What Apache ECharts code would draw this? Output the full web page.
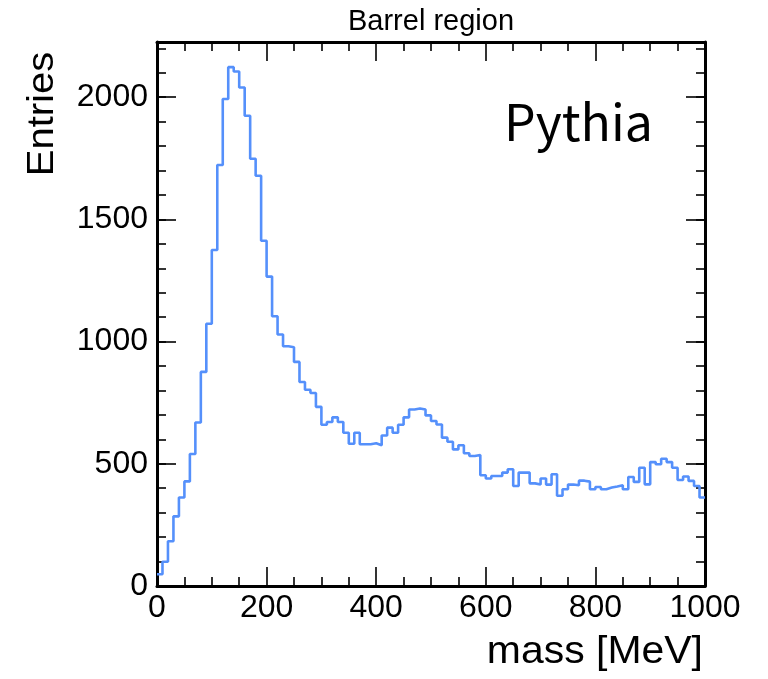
<!DOCTYPE html>
<html>
<head>
<meta charset="utf-8">
<script src="https://cdn.jsdelivr.net/npm/echarts@6/dist/echarts.min.js"></script>
<style>
html,body{margin:0;padding:0;background:#fff;}
#chart{width:768px;height:679px;}
</style>
</head>
<body>
<div id="chart"></div>
<script>
// Histogram: 100 bins of 10 MeV from 0 to 1000 MeV
const binStart = 0;
const binWidth = 10;
const entries = [
  48, 99, 183, 285, 362, 428, 540, 669, 876, 1073,
  1375, 1723, 1993, 2123, 2105, 2040, 1924, 1748, 1679, 1413,
  1266, 1104, 1029, 981, 977, 917, 835, 803, 790, 733,
  660, 671, 690, 671, 627, 582, 627, 580, 580, 584,
  576, 616, 648, 627, 660, 690, 722, 726, 722, 698,
  675, 661, 607, 590, 559, 576, 543, 532, 536, 453,
  440, 450, 450, 464, 478, 409, 464, 464, 420, 415,
  440, 415, 457, 369, 396, 415, 412, 431, 427, 396,
  405, 396, 403, 407, 412, 396, 446, 426, 484, 416,
  507, 498, 521, 507, 484, 434, 448, 430, 409, 362
];
const xTicks = [0, 200, 400, 600, 800, 1000];
const yTicks = [0, 500, 1000, 1500, 2000];
const titleText = 'Barrel region';
const xTitle = 'mass [MeV]';
const yTitle = 'Entries';
const labelText = 'Pythia';

// Build step points from bin edges
const stepData = entries.map((v, i) => [binStart + i * binWidth, v]);
stepData.push([binStart + entries.length * binWidth, entries[entries.length - 1]]);

const xMin = xTicks[0], xMax = xTicks[xTicks.length - 1];
const xInt = xTicks[1] - xTicks[0];
const yInt = yTicks[1] - yTicks[0];
const yMax = 2226;

const font = '"Liberation Sans", Arial, Helvetica, sans-serif';
const lineCol = '#000';

function xAx(pos, showLabel) {
  return {
    type: 'value', position: pos, min: xMin, max: xMax, interval: xInt,
    axisLine: {show: true, onZero: false, lineStyle: {color: lineCol, width: 3}},
    axisTick: {show: true, inside: true, length: 19, lineStyle: {color: lineCol, width: 1.6}},
    minorTick: {show: true, splitNumber: 4, length: 9, lineStyle: {color: lineCol, width: 1.6}},
    axisLabel: {show: showLabel, fontSize: 32, fontFamily: font, color: '#000', margin: 6,
      formatter: v => (xTicks.indexOf(v) >= 0 ? String(v) : '')},
    splitLine: {show: false}, minorSplitLine: {show: false}
  };
}
function yAx(pos, interval, len, showLabel, showLine) {
  return {
    type: 'value', position: pos, min: 0, max: yMax, interval: interval,
    axisLine: {show: showLine, onZero: false, lineStyle: {color: lineCol, width: 3}},
    axisTick: {show: true, inside: true, length: len, lineStyle: {color: lineCol, width: 1.6}},
    axisLabel: {show: showLabel, fontSize: 32, fontFamily: font, color: '#000', margin: 9,
      formatter: v => (yTicks.indexOf(v) >= 0 ? String(v) : '')},
    splitLine: {show: false}
  };
}

const chart = echarts.init(document.getElementById('chart'), null, {renderer: 'canvas'});
chart.setOption({
  animation: false,
  backgroundColor: '#fff',
  grid: {left: 157, right: 63, top: 42, bottom: 93, containLabel: false},
  xAxis: [xAx('bottom', true), xAx('top', false)],
  yAxis: [
    yAx('left', yInt, 19, true, true),
    yAx('left', 100, 9, false, false),
    yAx('right', yInt, 19, false, true),
    yAx('right', 100, 9, false, false)
  ],
  series: [{
    type: 'line', xAxisIndex: 0, yAxisIndex: 0,
    step: 'end', symbol: 'none', data: stepData,
    lineStyle: {color: '#5590fb', width: 2.6},
    clip: true
  }],
  graphic: [
    {type: 'text', x: 431, y: 22, scaleX: 1.0,
      style: {text: titleText, font: '29px ' + font, fill: '#000', align: 'center', verticalAlign: 'middle'}},
    {type: 'text', x: 703, y: 652, scaleX: 1.05,
      style: {text: xTitle, font: '39px ' + font, fill: '#000', align: 'right', verticalAlign: 'middle'}},
    {type: 'text', x: 43, y: 114, rotation: Math.PI / 2, scaleX: 1.08,
      style: {text: yTitle, font: '37px ' + font, fill: '#000', align: 'center', verticalAlign: 'middle'}},
    {type: 'text', x: 504, y: 122,
      style: {text: labelText, font: '50px "Noto Sans CJK JP", "Noto Sans", sans-serif', fill: '#000', align: 'left', verticalAlign: 'middle'}}
  ]
});
</script>
</body>
</html>
